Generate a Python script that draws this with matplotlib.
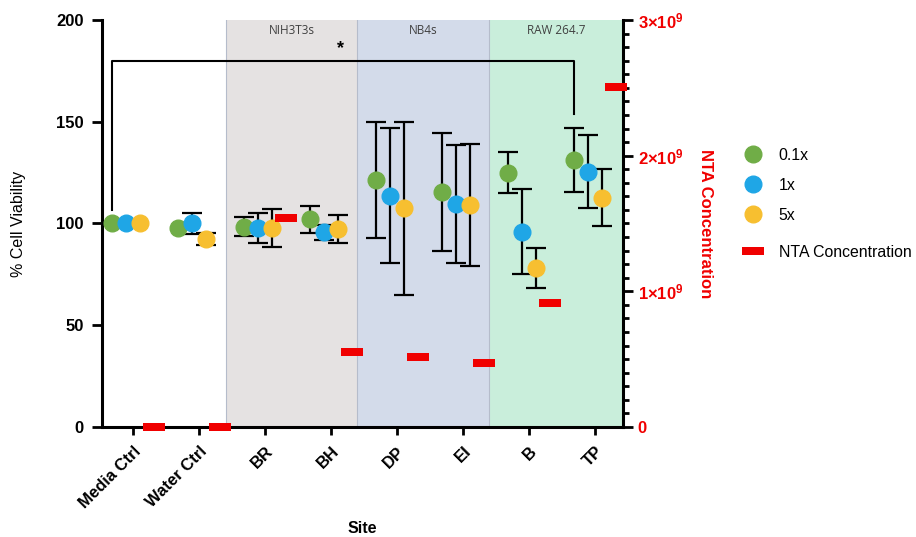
import matplotlib
matplotlib.use("Agg")
import matplotlib.pyplot as plt
import numpy as np

plt.rcParams['font.family'] = ['Liberation Sans', 'DejaVu Sans']
plt.rcParams['mathtext.fontset'] = 'custom'
plt.rcParams['mathtext.rm'] = 'Liberation Sans'
plt.rcParams['mathtext.bf'] = 'Liberation Sans:bold'

# Data
#---------------------------
sites = ["Media Ctrl", "Water Ctrl", "BR", "BH", "DP", "EI", "B", "TP"]
doses = ["0.1x", "1x", "5x"]

# % cell viability (mean) per dose, one value per site
via_01x = [100, 98, 98.5, 102, 121.3, 115.6, 125, 131.2]
via_1x = [100, 100, 97.8, 95.6, 113.7, 109.7, 96, 125.4]
via_5x = [100, 92.5, 97.8, 97.3, 107.5, 109, 78.2, 112.7]

# error bars (SD)
err_01x = [0, 0, 4.7, 6.5, 28.5, 29, 9.9, 15.7]
err_1x = [0, 5, 7.5, 3.7, 33, 29, 21, 18]
err_5x = [0, 3, 9.3, 6.8, 42.5, 30, 10, 14]

# NTA concentration (particles/mL)
nta_conc = [0, 0, 1.54e9, 0.555e9, 0.513e9, 0.469e9, 0.916e9, 2.503e9]
nta_ticks = [0, 1e9, 2e9, 3e9]
nta_ticklabels = ["0", r"$\mathbf{1{\times}10^{9}}$", r"$\mathbf{2{\times}10^{9}}$",
                  r"$\mathbf{3{\times}10^{9}}$"]

# cell line groups: (label, first site, last site)
groups = [("NIH3T3s", 2, 3), ("NB4s", 4, 5), ("RAW 264.7", 6, 7)]
group_colors = ["#e5e2e2", "#d3dbea", "#c9eedb"]

dose_colors = ["#70ad47", "#1fa6e6", "#f7bf30"]
nta_color = "#f00000"

# Figure
#---------------------------
fig = plt.figure(figsize=(9.16, 5.37), dpi=100)
ax = fig.add_axes([0.1114, 0.2048, 0.5688, 0.758])
ax2 = ax.twinx()

x = np.arange(len(sites))
step = 0.32
offsets = [-step, -step / 3, step / 3]

# shaded cell line regions
edges = [1.41, 3.39, 5.39, 7.42]
for i, (label, a, b) in enumerate(groups):
    ax.axvspan(edges[i], edges[i + 1], color=group_colors[i], zorder=0, lw=0)
    ax.text((edges[i] + edges[i + 1]) / 2, 195, label, ha='center', va='center',
            fontsize=8.5, color='#404040', family=['Open Sans', 'DejaVu Sans'])
for e in edges[:-1]:
    ax.axvline(e, color='#b5bccb', lw=0.8, zorder=0.5)

handles = []
for vals, errs, off, col, lab in zip([via_01x, via_1x, via_5x],
                                     [err_01x, err_1x, err_5x],
                                     offsets, dose_colors, doses):
    e = np.array(errs, dtype=float)
    e[e == 0] = np.nan
    ax.errorbar(x + off, vals, yerr=e, fmt='none', ecolor='black',
                elinewidth=1.6, capsize=7, capthick=1.6, zorder=2)
    h, = ax.plot(x + off, vals, 'o', color=col, markersize=12, zorder=3,
                 label=lab, clip_on=False)
    handles.append(h)

# significance bracket
x0 = x[0] + offsets[0]
x1 = x[7] + offsets[0]
ax.plot([x0, x0, x1, x1], [106.6, 180, 180, 153.8], color='black', lw=1.5, zorder=2)
ax.text(3.14, 186, "*", ha='center', va='center', fontsize=13, fontweight='bold')

# NTA bars on right axis
bar = [(-3, -1), (3, -1), (3, 1), (-3, 1)]
hn, = ax2.plot(x + step * 0.97, nta_conc, linestyle='none', marker=bar,
               markersize=16, color=nta_color, markeredgewidth=0, zorder=4,
               clip_on=False, label="NTA Concentration")

# Axes styling
#---------------------------
ax.set_xlim(-0.47, 7.42)
ax.set_ylim(0, 200)
ax2.set_ylim(0, 3e9)
ax2.patch.set_visible(False)

for a in (ax, ax2):
    a.spines['top'].set_visible(False)
    for s in ('left', 'right', 'bottom'):
        a.spines[s].set_linewidth(2.2)
ax.spines['right'].set_visible(False)
ax2.spines['left'].set_visible(False)
ax2.spines['bottom'].set_visible(False)

ax.set_yticks([0, 50, 100, 150, 200])
ax.set_yticklabels(["0", "50", "100", "150", "200"], fontweight='bold', fontsize=12)
ax.tick_params(axis='y', length=7, width=2, pad=6)
ax.set_xticks(x)
ax.set_xticklabels(sites, rotation=45, ha='right', rotation_mode='anchor',
                   fontweight='bold', fontsize=12)
ax.tick_params(axis='x', length=6, width=2, pad=6)

ax2.set_yticks(nta_ticks)
ax2.set_yticklabels(nta_ticklabels, fontweight='bold', fontsize=12, color=nta_color)
ax2.set_yticks(np.arange(0, 3.01e9, 1e8), minor=True)
ax2.tick_params(axis='y', which='major', length=7, width=2)
ax2.tick_params(axis='y', which='minor', length=4, width=2)

ax.set_ylabel("% Cell Viability", fontsize=11.5)
ax.yaxis.set_label_coords(-0.145, 0.5)
ax.set_xlabel("Site", fontweight='bold', fontsize=11.5)
ax.xaxis.set_label_coords(0.5, -0.232)
ax2.set_ylabel("NTA Concentration", fontweight='bold', fontsize=12,
               color=nta_color, rotation=270, va='center')
ax2.yaxis.set_label_coords(1.159, 0.5)

# legend: dose dots, then NTA bar a bit further down (fig.legend keeps both)
fig.legend(handles=handles, loc='upper left', bbox_to_anchor=(0.805, 0.737),
           frameon=False, fontsize=11.4, handletextpad=1.0, labelspacing=0.95,
           handlelength=1.2, borderaxespad=0)
fig.legend(handles=[hn], loc='upper left', bbox_to_anchor=(0.805, 0.556),
           frameon=False, fontsize=11.4, handletextpad=1.0,
           handlelength=1.2, borderaxespad=0)

fig.savefig("out.png", dpi=100)
